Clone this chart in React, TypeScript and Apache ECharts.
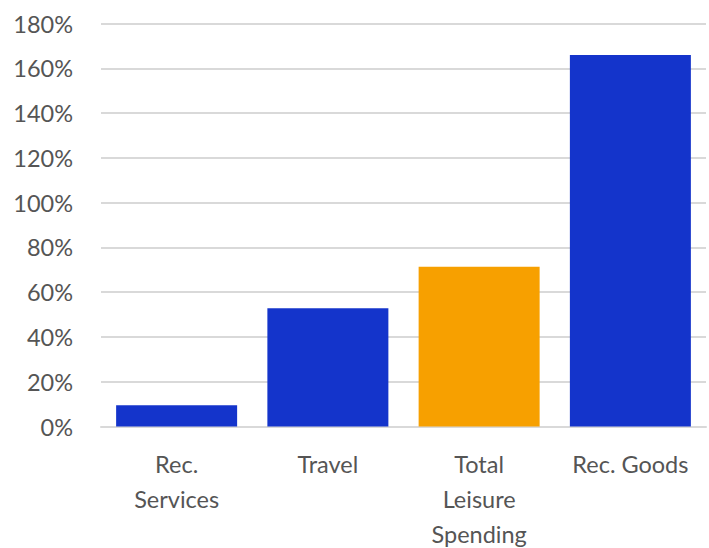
import React, { useEffect, useRef } from "react";
import * as echarts from "echarts";

const categories = ["Rec.\nServices", "Travel", "Total\nLeisure\nSpending", "Rec. Goods"];
const values = [9.5, 52.8, 71.3, 165.9];
const barColors = ["#1434CB", "#1434CB", "#F7A000", "#1434CB"];
const yTicks = { min: 0, max: 180, interval: 20 };

export default function App() {
  const ref = useRef<HTMLDivElement>(null);
  useEffect(() => {
    if (!ref.current) return;
    const chart = echarts.init(ref.current, undefined, { renderer: "svg" });
    chart.setOption({
      animation: false,
      backgroundColor: "#ffffff",
      grid: {
        left: 101,
        right: 3,
        top: 23.5,
        bottom: 121.5,
        containLabel: false,
        outerBoundsMode: "none",
      },
      xAxis: {
        type: "category",
        data: categories,
        axisLine: { show: true, lineStyle: { color: "#d9d9d9", width: 2 } },
        axisTick: { show: false },
        axisLabel: {
          color: "#555555",
          fontFamily: "Lato",
          fontSize: 23.5,
          lineHeight: 35,
          margin: 20,
          interval: 0,
          align: "center",
        },
      },
      yAxis: {
        type: "value",
        min: yTicks.min,
        max: yTicks.max,
        interval: yTicks.interval,
        axisLine: { show: false },
        axisTick: { show: false },
        splitLine: { show: true, lineStyle: { color: "#d9d9d9", width: 2 } },
        axisLabel: {
          color: "#555555",
          fontFamily: "Lato",
          fontSize: 23.5,
          margin: 28,
          formatter: (v: number) => `${v}%`,
        },
      },
      series: [
        {
          type: "bar",
          data: values.map((v, i) => ({ value: v, itemStyle: { color: barColors[i] } })),
          barCategoryGap: "20%",
        },
      ],
    });
    return () => chart.dispose();
  }, []);
  return (
    <div
      ref={ref}
      style={{ position: "fixed", left: 0, top: 0, width: 709, height: 548 }}
    />
  );
}
